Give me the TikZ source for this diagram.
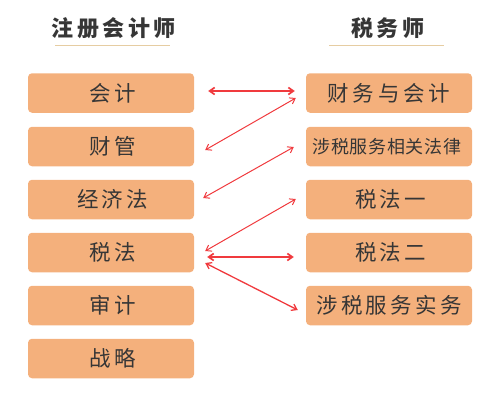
\documentclass[tikz,border=0pt]{standalone}
\usepackage{fontspec}
\setmainfont{Noto Sans CJK SC}
\usetikzlibrary{arrows.meta,calc}
\definecolor{boxfill}{HTML}{F4B07C}
\definecolor{txt}{HTML}{363636}
\definecolor{arr}{HTML}{F03A3E}
\definecolor{uline}{HTML}{E6CDA2}
\newcommand{\spaced}[2]{{\addfontfeature{LetterSpace=#1}#2}}
\tikzset{
  box/.style={fill=boxfill, rounded corners=4pt, minimum width=166pt, minimum height=39.5pt, inner sep=0pt, text=txt, font=\fontsize{21.5}{24}\selectfont},
  ttl/.style={text=txt, font=\fontsize{22}{24}\selectfont\bfseries, inner sep=0pt},
  con/.style={draw=arr, line width=1pt, {Straight Barb[length=5pt,width=7pt]}-{Straight Barb[length=5pt,width=7pt]}},
  conthick/.style={con, line width=1.7pt},
  uln/.style={draw=uline, line width=1.6pt},
}
\begin{document}
\begin{tikzpicture}[x=1pt,y=-1pt]
\useasboundingbox (0,0) rectangle (500,400);
% titles
\node[ttl] (t1) at (112,28) {\spaced{16}{注册会计师}\kern-3.5pt};
\node[ttl] (t2) at (386,28) {\spaced{16}{税务师}\kern-3.5pt};
\draw[uln] (55,45.5) -- (170,45.5);
\draw[uln] (329,45.5) -- (444,45.5);
% left boxes
\node[box] (l1) at (111,93) {\spaced{16}{会计}\kern-3.4pt};
\node[box] (l2) at (111,146.5) {\spaced{16}{财管}\kern-3.4pt};
\node[box] (l3) at (111,199.5) {\spaced{16}{经济法}\kern-3.4pt};
\node[box] (l4) at (111,252.5) {\spaced{16}{税法}\kern-3.4pt};
\node[box] (l5) at (111,305.5) {\spaced{16}{审计}\kern-3.4pt};
\node[box] (l6) at (111,358.5) {\spaced{16}{战略}\kern-3.4pt};
% right boxes
\node[box] (r1) at (389,93) {\hspace*{-4pt}\spaced{18}{财务与会计}\kern-3.9pt};
\node[box, font=\fontsize{18}{20}\selectfont] (r2) at (389,146.5) {\hspace*{-5pt}\spaced{4}{涉税服务相关法律}\kern-0.7pt};
\node[box] (r3) at (389,199.5) {\spaced{16}{税法一}\kern-3.4pt};
\node[box] (r4) at (389,252.5) {\spaced{16}{税法二}\kern-3.4pt};
\node[box, font=\fontsize{21.5}{24}\selectfont] (r5) at (389,305.5) {\hspace*{-3pt}\spaced{15}{涉税服务实务}\kern-3.2pt};
% connectors
\draw[conthick] ($(l1.east)+(14,-2)$) -- ($(r1.west)+(-11,-2)$);
\draw[con] ($(l2.east)+(11,3.5)$) -- ($(r1.west)+(-10,5)$);
\draw[con] ($(l3.east)+(9,-1.5)$) -- ($(r2.west)+(-12,0.5)$);
\draw[con] ($(l4.east)+(11,-1.5)$) -- ($(r3.west)+(-10,-0.5)$);
\draw[conthick] ($(l4.east)+(13,4.5)$) -- ($(r4.west)+(-12,4.5)$);
\draw[con, line width=1.3pt] ($(l4.east)+(11,10.5)$) -- ($(r5.west)+(-8,4.5)$);
\end{tikzpicture}
\end{document}
